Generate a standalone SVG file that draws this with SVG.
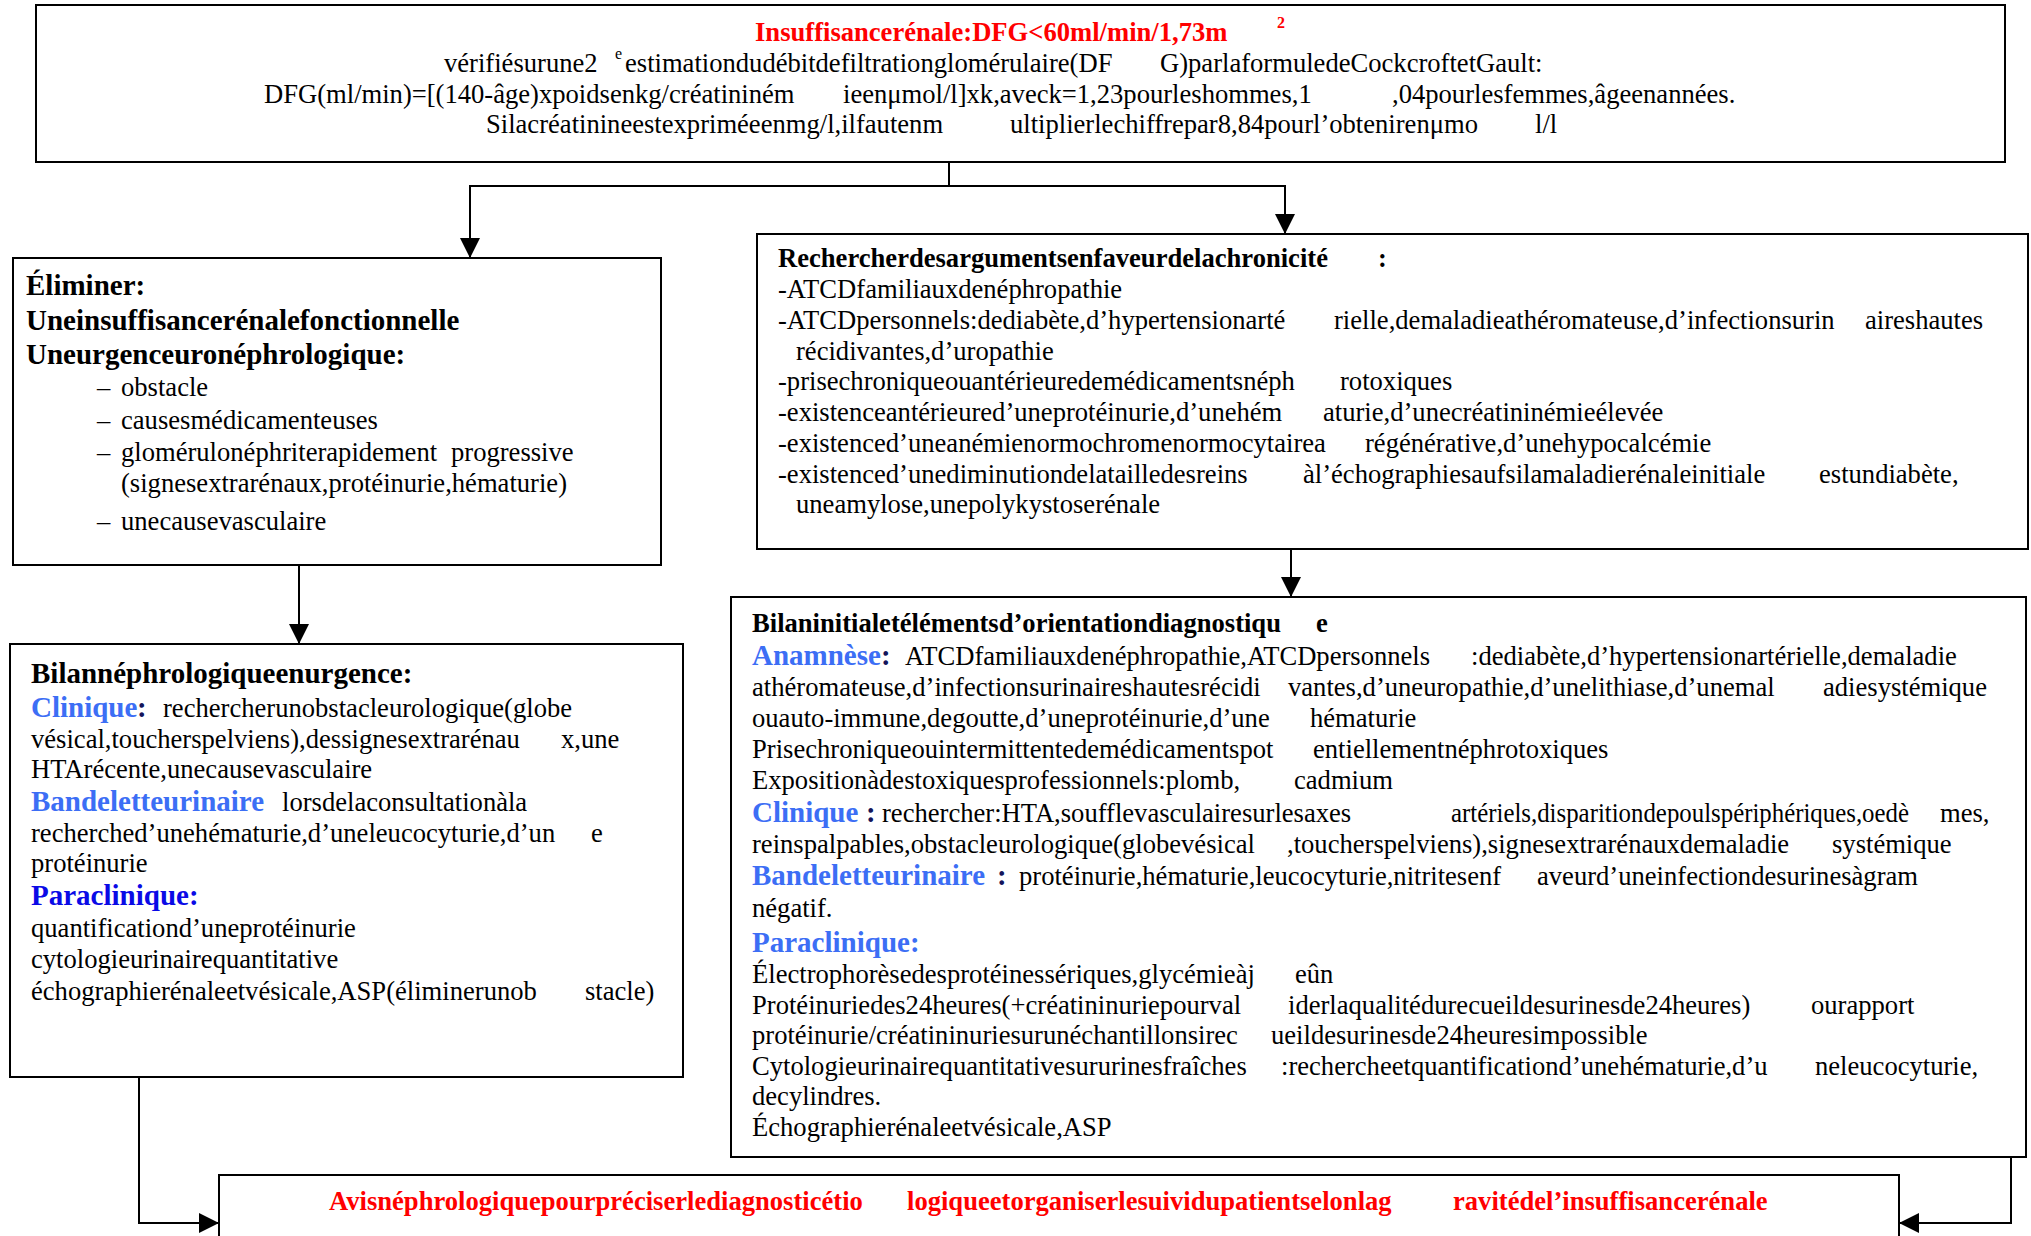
<svg xmlns="http://www.w3.org/2000/svg" width="2031" height="1236" viewBox="0 0 2031 1236">
<defs>
<style>
text{font-family:"Liberation Serif","Times New Roman",serif;font-size:26.6px;fill:#000}
.b{font-weight:bold}
.h{font-weight:bold;font-size:29px}
.red{fill:#ff0000}
.lb{fill:#3c6ef5}
.db{fill:#0a0ae6}
.nv{fill:#14145a}
.sup{font-size:16px}
.box{fill:#fff;stroke:#000;stroke-width:2}
.con{fill:none;stroke:#000;stroke-width:2}
</style>
<marker id="arr" viewBox="0 0 20 20" refX="20" refY="10" markerWidth="20" markerHeight="20" markerUnits="userSpaceOnUse" orient="auto">
<path d="M0,0 L20,10 L0,20 Z" fill="#000"/>
</marker>
</defs>
<rect width="2031" height="1236" fill="#fff"/>

<g id="n-top">
<rect class="box" x="36" y="5" width="1969" height="157"/>
<text class="b red" x="755" y="41">Insuffisancerénale:DFG&lt;60ml/min/1,73m</text>
<text class="b red sup" x="1277" y="28">2</text>
<text x="444" y="72">vérifiésurune2</text>
<text class="sup" x="615" y="59">e</text>
<text x="625" y="72">estimationdudébitdefiltrationglomérulaire(DF</text>
<text x="1160" y="72">G)parlaformuledeCockcroftetGault:</text>
<text x="264" y="102.5">DFG(ml/min)=[(140-âge)xpoidsenkg/créatininém</text>
<text x="843" y="102.5">ieenμmol/l]xk,aveck=1,23pourleshommes,1</text>
<text x="1392" y="102.5">,04pourlesfemmes,âgeenannées.</text>
<text x="486" y="133">Silacréatinineestexpriméeenmg/l,ilfautenm</text>
<text x="1010" y="133">ultiplierlechiffrepar8,84pourl’obtenirenμmo</text>
<text x="1535" y="133">l/l</text>
</g>

<g id="n-eliminer">
<rect class="box" x="13" y="258" width="648" height="307"/>
<text class="h" x="26" y="295">Éliminer:</text>
<text class="h" x="26" y="330">Uneinsuffisancerénalefonctionnelle</text>
<text class="h" x="26" y="364">Uneurgenceuronéphrologique:</text>
<text x="97" y="396">–</text><text x="121" y="396">obstacle</text>
<text x="97" y="429">–</text><text x="121" y="429">causesmédicamenteuses</text>
<text x="97" y="461">–</text><text x="121" y="461">glomérulonéphriterapidement</text><text x="451" y="461">progressive</text>
<text x="121" y="492">(signesextrarénaux,protéinurie,hématurie)</text>
<text x="97" y="530">–</text><text x="121" y="530">unecausevasculaire</text>
</g>

<g id="n-bilan-urgence">
<rect class="box" x="10" y="644" width="673" height="433"/>
<text class="h" x="31" y="683">Bilannéphrologiqueenurgence:</text>
<text class="h lb" x="31" y="717">Clinique</text><text class="h nv" x="137" y="717">:</text>
<text x="163" y="717">rechercherunobstacleurologique(globe</text>
<text x="31" y="748">vésical,toucherspelviens),dessignesextrarénau</text><text x="561" y="748">x,une</text>
<text x="31" y="778">HTArécente,unecausevasculaire</text>
<text class="h lb" x="31" y="811">Bandeletteurinaire</text><text x="282" y="811">lorsdelaconsultationàla</text>
<text x="31" y="842">recherched’unehématurie,d’uneleucocyturie,d’un</text><text x="591" y="842">e</text>
<text x="31" y="872">protéinurie</text>
<text class="h db" x="31" y="905">Paraclinique:</text>
<text x="31" y="937">quantificationd’uneprotéinurie</text>
<text x="31" y="968">cytologieurinairequantitative</text>
<text x="31" y="1000">échographierénaleetvésicale,ASP(éliminerunob</text><text x="585" y="1000">stacle)</text>
</g>

<g id="n-chronicite">
<rect class="box" x="757" y="234" width="1271" height="315"/>
<text class="b" x="778" y="267">Rechercherdesargumentsenfaveurdelachronicité</text><text class="b" x="1378" y="267">:</text>
<text x="778" y="298">-ATCDfamiliauxdenéphropathie</text>
<text x="778" y="329">-ATCDpersonnels:dediabète,d’hypertensionarté</text><text x="1334" y="329">rielle,demaladieathéromateuse,d’infectionsurin</text><text x="1865" y="329">aireshautes</text>
<text x="796" y="359.5">récidivantes,d’uropathie</text>
<text x="778" y="390">-prisechroniqueouantérieuredemédicamentsnéph</text><text x="1340" y="390">rotoxiques</text>
<text x="778" y="421">-existenceantérieured’uneprotéinurie,d’unehém</text><text x="1323" y="421">aturie,d’unecréatininémieélevée</text>
<text x="778" y="452">-existenced’uneanémienormochromenormocytairea</text><text x="1365" y="452">régénérative,d’unehypocalcémie</text>
<text x="778" y="482.5">-existenced’unediminutiondelatailledesreins</text><text x="1303" y="482.5">àl’échographiesaufsilamaladierénaleinitiale</text><text x="1819" y="482.5">estundiabète,</text>
<text x="796" y="513">uneamylose,unepolykystoserénale</text>
</g>

<g id="n-bilan-initial">
<rect class="box" x="731" y="597" width="1295" height="560"/>
<text class="b" x="752" y="632">Bilaninitialetélémentsd’orientationdiagnostiqu</text><text class="b" x="1316" y="632">e</text>
<text class="h lb" x="752" y="665">Anamnèse</text><text class="h nv" x="881" y="665">:</text>
<text x="905" y="665">ATCDfamiliauxdenéphropathie,ATCDpersonnels</text><text x="1471" y="665">:dediabète,d’hypertensionartérielle,demaladie</text>
<text x="752" y="696">athéromateuse,d’infectionsurinaireshautesrécidi</text><text x="1288" y="696">vantes,d’uneuropathie,d’unelithiase,d’unemal</text><text x="1823" y="696">adiesystémique</text>
<text x="752" y="726.5">ouauto-immune,degoutte,d’uneprotéinurie,d’une</text><text x="1310" y="726.5">hématurie</text>
<text x="752" y="757.5">Prisechroniqueouintermittentedemédicamentspot</text><text x="1313" y="757.5">entiellementnéphrotoxiques</text>
<text x="752" y="788.5">Expositionàdestoxiquesprofessionnels:plomb,</text><text x="1294" y="788.5">cadmium</text>
<text class="h lb" x="752" y="821.5">Clinique</text><text class="h nv" x="866" y="821.5">:</text>
<text x="882" y="821.5">rechercher:HTA,soufflevasculairesurlesaxes</text><text x="1451" y="821.5" textLength="458" lengthAdjust="spacingAndGlyphs">artériels,disparitiondepoulspériphériques,oedè</text><text x="1940" y="821.5">mes,</text>
<text x="752" y="853">reinspalpables,obstacleurologique(globevésical</text><text x="1287" y="853">,toucherspelviens),signesextrarénauxdemaladie</text><text x="1832" y="853">systémique</text>
<text class="h lb" x="752" y="885">Bandeletteurinaire</text><text class="h nv" x="997" y="885">:</text>
<text x="1019" y="885">protéinurie,hématurie,leucocyturie,nitritesenf</text><text x="1537" y="885">aveurd’uneinfectiondesurinesàgram</text>
<text x="752" y="917">négatif.</text>
<text class="h lb" x="752" y="952">Paraclinique:</text>
<text x="752" y="983">Électrophorèsedesprotéinessériques,glycémieàj</text><text x="1295" y="983">eûn</text>
<text x="752" y="1014">Protéinuriedes24heures(+créatininuriepourval</text><text x="1288" y="1014">iderlaqualitédurecueildesurinesde24heures)</text><text x="1811" y="1014">ourapport</text>
<text x="752" y="1044">protéinurie/créatininuriesurunéchantillonsirec</text><text x="1271" y="1044">ueildesurinesde24heuresimpossible</text>
<text x="752" y="1074.5">Cytologieurinairequantitativesururinesfraîches</text><text x="1281" y="1074.5">:rechercheetquantificationd’unehématurie,d’u</text><text x="1815" y="1074.5">neleucocyturie,</text>
<text x="752" y="1105">decylindres.</text>
<text x="752" y="1136">Échographierénaleetvésicale,ASP</text>
</g>

<g id="n-avis">
<rect class="box" x="219" y="1175" width="1680" height="100"/>
<text class="b red" x="329" y="1210">Avisnéphrologiquepourpréciserlediagnosticétio</text>
<text class="b red" x="907" y="1210">logiqueetorganiserlesuividupatientselonlag</text>
<text class="b red" x="1453" y="1210">ravitédel’insuffisancerénale</text>
</g>

<g id="connectors">
<path class="con" d="M949,162 V186 H470 V258" marker-end="url(#arr)"/>
<path class="con" d="M949,186 H1285 V234" marker-end="url(#arr)"/>
<path class="con" d="M299,565 V644" marker-end="url(#arr)"/>
<path class="con" d="M1291,549 V597" marker-end="url(#arr)"/>
<path class="con" d="M139,1077 V1223 H219" marker-end="url(#arr)"/>
<path class="con" d="M2011,1157 V1223 H1899" marker-end="url(#arr)"/>
</g>
</svg>
